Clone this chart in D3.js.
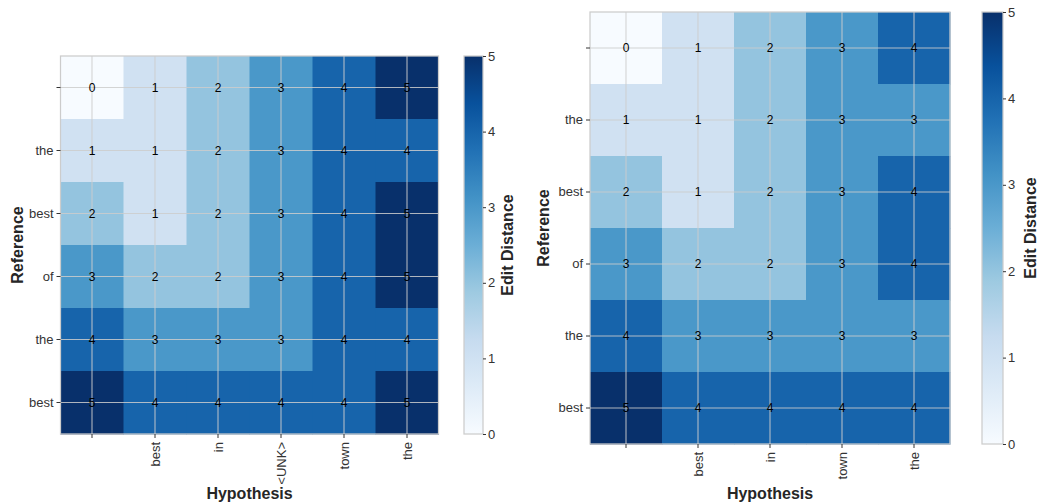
<!DOCTYPE html>
<html><head><meta charset="utf-8">
<script src="https://cdn.jsdelivr.net/npm/d3@7"></script>
<style>body{margin:0;background:#fff;} text{font-family:"Liberation Sans",Arial,sans-serif;}</style>
</head><body><svg id="c" width="1039" height="504"></svg>
<script>
const leftHyp = ["", "best", "in", "<UNK>", "town", "the"];
const leftRef = ["", "the", "best", "of", "the", "best"];
const leftValues = [
  [0,1,2,3,4,5],
  [1,1,2,3,4,4],
  [2,1,2,3,4,5],
  [3,2,2,3,4,5],
  [4,3,3,3,4,4],
  [5,4,4,4,4,5]
];
const rightHyp = ["", "best", "in", "town", "the"];
const rightRef = ["", "the", "best", "of", "the", "best"];
const rightValues = [
  [0,1,2,3,4],
  [1,1,2,3,3],
  [2,1,2,3,4],
  [3,2,2,3,4],
  [4,3,3,3,3],
  [5,4,4,4,4]
];
const colorTicks = [0,1,2,3,4,5];
const bluesStops = ["#f7fbff","#deebf7","#c6dbef","#9ecae1","#6baed6","#4292c6","#2171b5","#08519c","#08306b"];

const svg = d3.select("#c");
const vmin = 0, vmax = 5;
const color = d3.scaleLinear()
  .domain(bluesStops.map((_, i) => vmin + (vmax - vmin) * i / (bluesStops.length - 1)))
  .range(bluesStops).interpolate(d3.interpolateRgb).clamp(true);

const defs = svg.append("defs");
const grad = defs.append("linearGradient").attr("id","cbg").attr("x1",0).attr("y1",1).attr("x2",0).attr("y2",0);
bluesStops.forEach((c,i)=>grad.append("stop").attr("offset", i/(bluesStops.length-1)).attr("stop-color", c));

function heatmap(cfg) {
  const {hyp, ref, values, x0, x1, y0, y1, cb, yTitleX, xTitleY} = cfg;
  const g = svg.append("g");
  const x = d3.scaleBand().domain(d3.range(hyp.length)).range([x0, x1]);
  const y = d3.scaleBand().domain(d3.range(ref.length)).range([y0, y1]);
  const cells = [];
  values.forEach((row, r) => row.forEach((v, c) => cells.push({r, c, v})));
  g.selectAll("rect.cell").data(cells).join("rect")
    .attr("x", d => x(d.c)).attr("y", d => y(d.r))
    .attr("width", x.bandwidth() + 0.5).attr("height", y.bandwidth() + 0.5)
    .attr("fill", d => color(d.v));
  // grid
  g.selectAll("line.vg").data(d3.range(hyp.length)).join("line")
    .attr("x1", d => x(d) + x.bandwidth()/2).attr("x2", d => x(d) + x.bandwidth()/2)
    .attr("y1", y0).attr("y2", y1).attr("stroke", "#cccccc").attr("stroke-width", 1.1).attr("stroke-opacity", 0.85);
  g.selectAll("line.hg").data(d3.range(ref.length)).join("line")
    .attr("y1", d => y(d) + y.bandwidth()/2).attr("y2", d => y(d) + y.bandwidth()/2)
    .attr("x1", x0).attr("x2", x1).attr("stroke", "#cccccc").attr("stroke-width", 1.1).attr("stroke-opacity", 0.85);
  // annotations
  g.selectAll("text.ann").data(cells).join("text")
    .attr("x", d => x(d.c) + x.bandwidth()/2).attr("y", d => y(d.r) + y.bandwidth()/2)
    .attr("text-anchor", "middle").attr("dominant-baseline", "central")
    .style("font-size", "12px").attr("fill", "#000").text(d => d.v);
  // frame
  g.append("rect").attr("x", x0).attr("y", y0).attr("width", x1-x0).attr("height", y1-y0)
    .attr("fill", "none").attr("stroke", "#cccccc").attr("stroke-width", 1.25);
  // axes
  const xa = g.append("g").attr("transform", `translate(0,${y1})`)
    .call(d3.axisBottom(x).tickFormat(i => hyp[i]).tickSize(4).tickPadding(4));
  xa.select(".domain").remove();
  xa.selectAll(".tick line").attr("stroke", "#333").attr("stroke-width", 1);
  xa.selectAll(".tick text").attr("transform", "rotate(-90)").attr("text-anchor", "end")
    .attr("x", -8).attr("y", 0).attr("dy", "0.35em").style("font-size", "13px").attr("fill", "#333");
  const ya = g.append("g").attr("transform", `translate(${x0},0)`)
    .call(d3.axisLeft(y).tickFormat(i => ref[i]).tickSize(4).tickPadding(3));
  ya.select(".domain").remove();
  ya.selectAll(".tick line").attr("stroke", "#333");
  ya.selectAll(".tick text").style("font-size", "13px").attr("fill", "#333");
  // titles
  g.append("text").attr("transform", `translate(${yTitleX},${(y0+y1)/2}) rotate(-90)`)
    .attr("text-anchor", "middle").style("font-size", "16px").attr("font-weight", "bold").attr("fill", "#262626").text("Reference");
  g.append("text").attr("x", (x0+x1)/2).attr("y", xTitleY)
    .attr("text-anchor", "middle").style("font-size", "16px").attr("font-weight", "bold").attr("fill", "#262626").text("Hypothesis");
  // colorbar
  const cs = d3.scaleLinear().domain([vmin, vmax]).range([y1, y0]);
  g.append("rect").attr("x", cb.x).attr("y", y0).attr("width", cb.w).attr("height", y1-y0)
    .attr("fill", "url(#cbg)").attr("stroke", "#cccccc").attr("stroke-width", 1.25);
  const ca = g.append("g").attr("transform", `translate(${cb.x + cb.w},0)`)
    .call(d3.axisRight(cs).tickValues(colorTicks).tickFormat(d3.format("d")).tickSize(3).tickPadding(2));
  ca.select(".domain").remove();
  ca.selectAll(".tick line").attr("stroke", "#333");
  ca.selectAll(".tick text").style("font-size", "13px").attr("fill", "#333");
  g.append("text").attr("transform", `translate(${cb.labelX},${(y0+y1)/2}) rotate(-90)`)
    .attr("text-anchor", "middle").style("font-size", "16px").attr("font-weight", "bold").attr("fill", "#262626").text("Edit Distance");
}

heatmap({hyp: leftHyp, ref: leftRef, values: leftValues, x0: 60.5, x1: 438.5, y0: 56, y1: 434,
  cb: {x: 464, w: 19, labelX: 513}, yTitleX: 23, xTitleY: 499});
heatmap({hyp: rightHyp, ref: rightRef, values: rightValues, x0: 590, x1: 950, y0: 12, y1: 444,
  cb: {x: 982, w: 21, labelX: 1036}, yTitleX: 549, xTitleY: 499});
</script></body></html>
